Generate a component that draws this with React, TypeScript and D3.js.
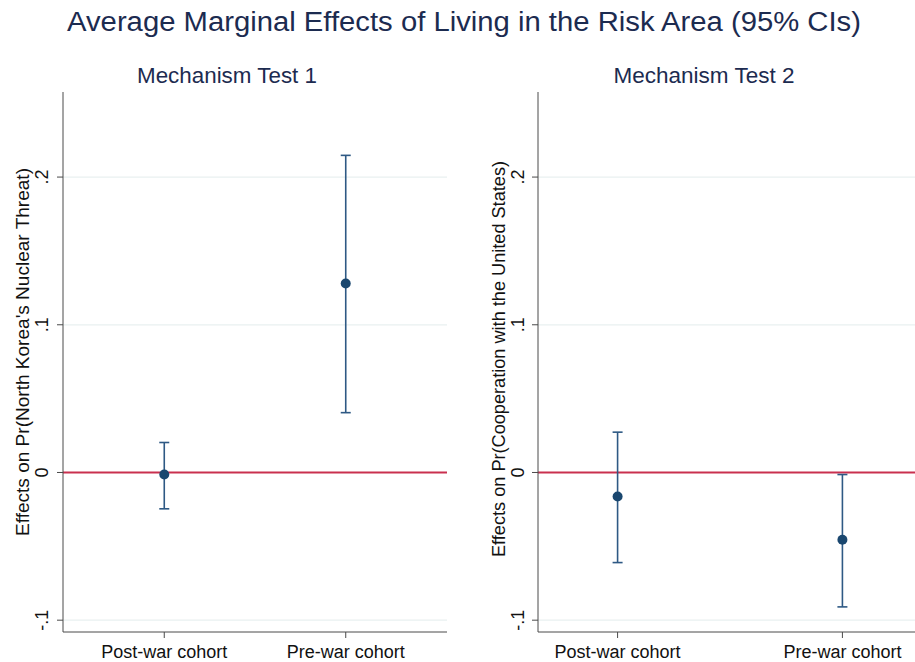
import React from "react";
import * as d3 from "d3";

const cohorts = ["Post-war cohort", "Pre-war cohort"];
const panelTitles = ["Mechanism Test 1", "Mechanism Test 2"];
const yTitles = [
  "Effects on Pr(North Korea's Nuclear Threat)",
  "Effects on Pr(Cooperation with the United States)",
];
// point estimate, lower CI, upper CI per cohort
const test1Est = [-0.0014, 0.128];
const test1Lo = [-0.0246, 0.0405];
const test1Hi = [0.0203, 0.2147];
const test2Est = [-0.0163, -0.0456];
const test2Lo = [-0.061, -0.091];
const test2Hi = [0.0273, -0.0014];
const yTicks = [-0.1, 0, 0.1, 0.2];
const yTickLabels = ["-.1", "0", ".1", ".2"];

const W = 915;
const H = 662;
const FONT = "'Liberation Sans', Arial, Helvetica, sans-serif";
const TITLE_COLOR = "#1c2b50";
const POINT_COLOR = "#1a476f";
const BAR_COLOR = "#2e5984";
const REF_COLOR = "#c9304f";
const GRID_COLOR = "#e9f0f0";

const y = d3.scaleLinear().domain([-0.108, 0.2576]).range([632, 92]);

const panels = [
  {
    title: panelTitles[0],
    yTitle: yTitles[0],
    est: test1Est,
    lo: test1Lo,
    hi: test1Hi,
    left: 63,
    right: 447,
    padding: 0.558,
    titleX: 227,
    titleLen: 180,
    yTitleX: 29,
    yTitleY: 352,
    yTitleLen: 368,
    tickX: 48,
  },
  {
    title: panelTitles[1],
    yTitle: yTitles[1],
    est: test2Est,
    lo: test2Lo,
    hi: test2Hi,
    left: 538,
    right: 922,
    padding: 0.354,
    titleX: 704,
    titleLen: 181,
    yTitleX: 505,
    yTitleY: 359,
    yTitleLen: 396,
    tickX: 524,
  },
];

function Panel({ p }) {
  const x = d3
    .scalePoint()
    .domain(cohorts)
    .range([p.left, p.right])
    .padding(p.padding);
  const y0 = y.range()[0];
  const y1 = y.range()[1];

  return (
    <g>
      <text
        x={p.titleX}
        y={83}
        textAnchor="middle"
        fontSize={21.5}
        fill={TITLE_COLOR}
        fontFamily={FONT}
        textLength={p.titleLen}
        lengthAdjust="spacingAndGlyphs"
      >
        {p.title}
      </text>

      {/* grid lines */}
      {yTicks
        .filter((t) => t !== 0)
        .map((t) => (
          <line
            key={t}
            x1={p.left}
            x2={p.right}
            y1={y(t)}
            y2={y(t)}
            stroke={GRID_COLOR}
            strokeWidth={1.3}
          />
        ))}

      {/* reference line at zero */}
      <line
        x1={p.left}
        x2={p.right}
        y1={y(0)}
        y2={y(0)}
        stroke={REF_COLOR}
        strokeWidth={1.8}
      />

      {/* axes */}
      <line x1={p.left} x2={p.left} y1={y1} y2={y0} stroke="#4a4a4a" strokeWidth={1} />
      <line x1={p.left} x2={p.right} y1={y0} y2={y0} stroke="#4a4a4a" strokeWidth={1} />

      {yTicks.map((t, i) => (
        <g key={t}>
          <line
            x1={p.left - 6}
            x2={p.left}
            y1={y(t)}
            y2={y(t)}
            stroke="#4a4a4a"
            strokeWidth={1}
          />
          <text
            transform={`translate(${p.tickX},${y(t)}) rotate(-90)`}
            textAnchor="middle"
            fontSize={18}
            fontFamily={FONT}
            fill="#111"
          >
            {yTickLabels[i]}
          </text>
        </g>
      ))}

      <text
        transform={`translate(${p.yTitleX},${p.yTitleY}) rotate(-90)`}
        textAnchor="middle"
        fontSize={18}
        fontFamily={FONT}
        fill="#111"
        textLength={p.yTitleLen}
        lengthAdjust="spacingAndGlyphs"
      >
        {p.yTitle}
      </text>

      {cohorts.map((c) => (
        <g key={c}>
          <line
            x1={x(c)}
            x2={x(c)}
            y1={y0}
            y2={y0 + 6}
            stroke="#4a4a4a"
            strokeWidth={1}
          />
          <text
            x={x(c)}
            y={658}
            textAnchor="middle"
            fontSize={18}
            fontFamily={FONT}
            fill="#111"
          >
            {c}
          </text>
        </g>
      ))}

      {/* error bars and estimates */}
      {cohorts.map((c, i) => (
        <g key={c}>
          <line
            x1={x(c)}
            x2={x(c)}
            y1={y(p.lo[i])}
            y2={y(p.hi[i])}
            stroke={BAR_COLOR}
            strokeWidth={1.6}
          />
          <line
            x1={x(c) - 5}
            x2={x(c) + 5}
            y1={y(p.lo[i])}
            y2={y(p.lo[i])}
            stroke={BAR_COLOR}
            strokeWidth={1.6}
          />
          <line
            x1={x(c) - 5}
            x2={x(c) + 5}
            y1={y(p.hi[i])}
            y2={y(p.hi[i])}
            stroke={BAR_COLOR}
            strokeWidth={1.6}
          />
          <circle cx={x(c)} cy={y(p.est[i])} r={5} fill={POINT_COLOR} />
        </g>
      ))}
    </g>
  );
}

export default function App() {
  return (
    <svg
      width={W}
      height={H}
      style={{ position: "absolute", left: 0, top: 0, background: "#fff" }}
    >
      <rect width={W} height={H} fill="#fff" />
      <text
        x={464}
        y={31}
        textAnchor="middle"
        fontSize={27}
        fill={TITLE_COLOR}
        fontFamily={FONT}
        textLength={794}
        lengthAdjust="spacingAndGlyphs"
      >
        Average Marginal Effects of Living in the Risk Area (95% CIs)
      </text>
      {panels.map((p) => (
        <Panel key={p.title} p={p} />
      ))}
    </svg>
  );
}
